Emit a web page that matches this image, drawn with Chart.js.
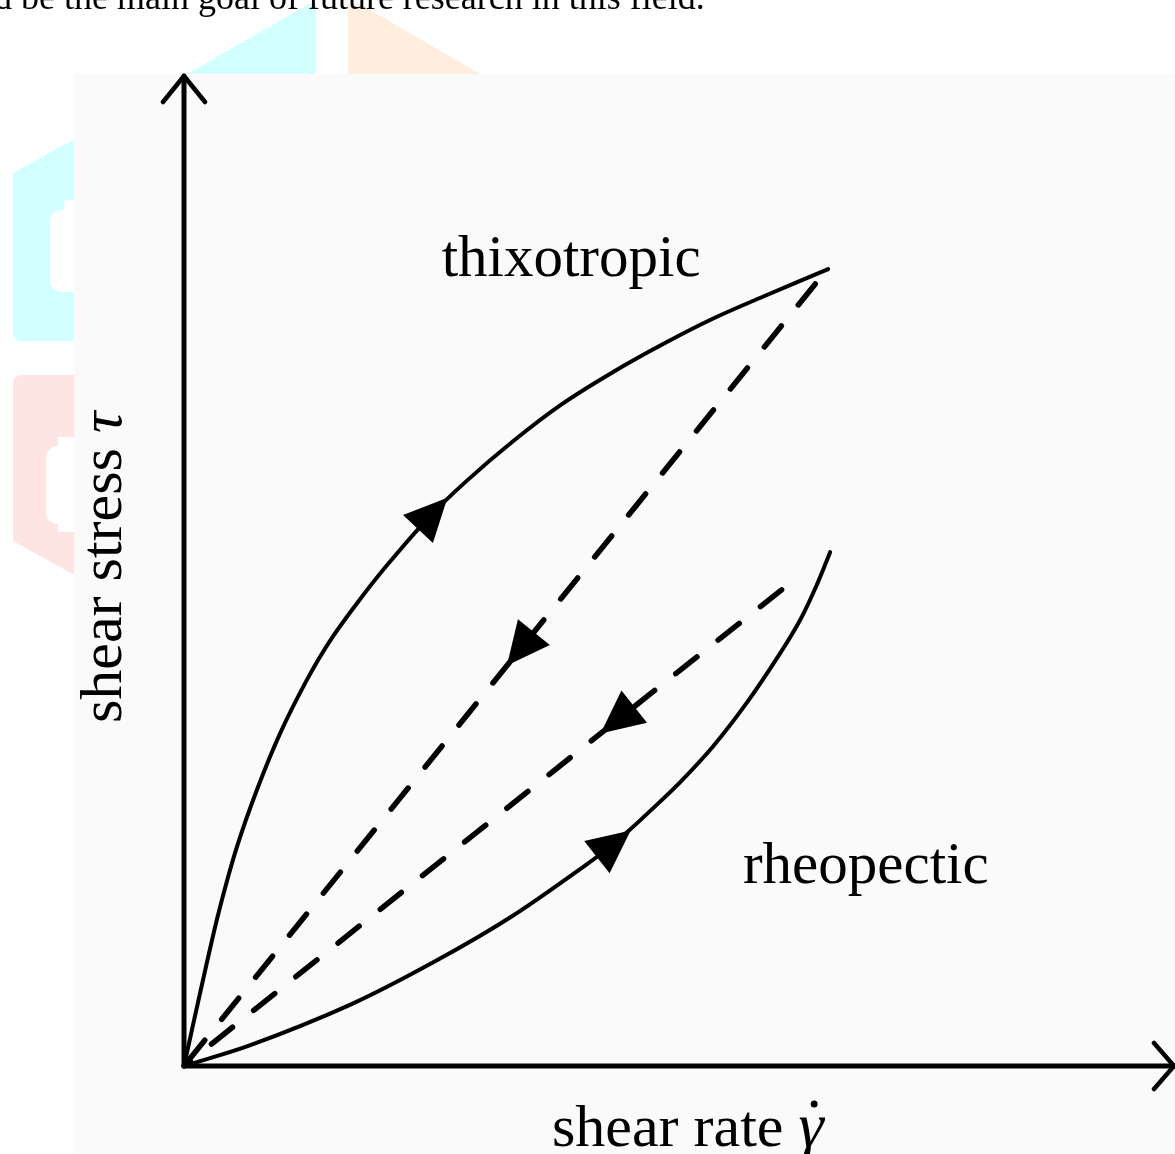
<!DOCTYPE html>
<html>
<head>
<meta charset="utf-8">
<script src="https://cdn.jsdelivr.net/npm/chart.js@4.4.1/dist/chart.umd.min.js"></script>
<style>
    html, body { margin: 0; padding: 0; background: #fff; overflow: hidden; }
    canvas { display: block; }
</style>
</head>
<body>
<canvas id="flowCurves" width="1175" height="1154"></canvas>
<script>
// shear rate (x) / shear stress (y), arbitrary units 0..10
const thixoUpX   = [0, 0.09, 0.23, 0.36, 0.53, 0.74, 0.97, 1.24, 1.47, 1.75, 2.05, 2.46, 2.83, 3.32, 3.82, 4.33, 4.83, 5.34, 5.84, 6.50];
const thixoUpY   = [0, 0.41, 1.04, 1.59, 2.20, 2.80, 3.36, 3.90, 4.29, 4.68, 5.06, 5.53, 5.89, 6.31, 6.69, 7.01, 7.29, 7.55, 7.77, 8.05];
const thixoDownX = [6.37, 3.44, 0];
const thixoDownY = [7.90, 4.27, 0];
const rheoUpX    = [0, 0.67, 1.68, 2.52, 3.29, 4.04, 4.28, 4.47, 4.74, 5.01, 5.34, 5.68, 6.01, 6.22, 6.39, 6.52];
const rheoUpY    = [0, 0.21, 0.62, 1.05, 1.50, 2.02, 2.20, 2.36, 2.61, 2.87, 3.23, 3.67, 4.16, 4.51, 4.87, 5.19];
const rheoDownX  = [6.03, 4.43, 0];
const rheoDownY  = [4.81, 3.54, 0];

// index of the point carrying the direction arrow, per dataset
const arrowAt = [11, 1, 6, 1];

const xTitle = 'shear rate ';
const xSymbol = 'γ';
const yTitle = 'shear stress ';
const ySymbol = 'τ';
const curveLabels = [
    { text: 'thixotropic', x: 2.60, y: 7.98 },
    { text: 'rheopectic',  x: 5.64, y: 1.85 }
];
const pageText = 'd be the main goal of future research in this field.';

const toPoints = (xs, ys) => xs.map((x, i) => ({ x: x, y: ys[i] }));

const SERIF = '"Liberation Serif", "DejaVu Serif", serif';

const pagePlugin = {
    id: 'page',
    beforeDraw(chart) {
        const ctx = chart.ctx;
        ctx.save();
        ctx.fillStyle = '#ffffff';
        ctx.fillRect(0, 0, chart.width, chart.height);

        // faded logo shapes behind the figure
        ctx.fillStyle = '#d2ffff';
        ctx.beginPath();
        ctx.moveTo(187, 74); ctx.lineTo(309, 4); ctx.lineTo(316, 4); ctx.lineTo(316, 74);
        ctx.closePath(); ctx.fill();
        ctx.beginPath();
        ctx.moveTo(13, 173); ctx.lineTo(80, 136); ctx.lineTo(80, 341); ctx.lineTo(22, 341);
        ctx.quadraticCurveTo(13, 341, 13, 332);
        ctx.closePath(); ctx.fill();

        ctx.fillStyle = '#ffeedd';
        ctx.beginPath();
        ctx.moveTo(348, 4); ctx.lineTo(360, 4); ctx.lineTo(480, 74); ctx.lineTo(348, 74);
        ctx.closePath(); ctx.fill();

        ctx.fillStyle = '#ffe4e4';
        ctx.beginPath();
        ctx.moveTo(22, 375); ctx.lineTo(80, 375); ctx.lineTo(80, 578); ctx.lineTo(13, 541);
        ctx.lineTo(13, 384); ctx.quadraticCurveTo(13, 375, 22, 375);
        ctx.closePath(); ctx.fill();

        ctx.fillStyle = '#ffffff';
        ctx.beginPath();
        ctx.roundRect(50, 210, 40, 82, 12); ctx.fill();
        ctx.fillRect(64, 200, 20, 14);
        ctx.beginPath();
        ctx.roundRect(46, 446, 40, 78, 12); ctx.fill();
        ctx.fillRect(58, 437, 20, 14);
        ctx.fillRect(58, 520, 20, 12);

        // figure panel
        ctx.fillStyle = '#fafafa';
        ctx.fillRect(74, 74, chart.width - 74, chart.height - 74);

        // running text of the page above the figure
        ctx.fillStyle = '#000';
        ctx.font = '36px ' + SERIF;
        ctx.textBaseline = 'alphabetic';
        ctx.fillText(pageText, -6, 9);
        ctx.restore();
    },
    afterDraw(chart) {
        const ctx = chart.ctx;
        const xs = chart.scales.x, ys = chart.scales.y;
        const ox = xs.getPixelForValue(0), oy = ys.getPixelForValue(0);
        const xe = xs.getPixelForValue(xs.max), ye = ys.getPixelForValue(ys.max);
        ctx.save();
        ctx.strokeStyle = '#000';
        ctx.lineCap = 'round';
        ctx.lineJoin = 'round';
        ctx.lineWidth = 5;
        ctx.beginPath();
        ctx.moveTo(ox, ye); ctx.lineTo(ox, oy); ctx.lineTo(xe, oy);
        ctx.stroke();
        ctx.lineWidth = 4.5;
        ctx.beginPath();
        ctx.moveTo(ox - 21, ye + 26); ctx.lineTo(ox, ye); ctx.lineTo(ox + 21, ye + 26);
        ctx.moveTo(xe - 21, oy - 23); ctx.lineTo(xe - 1, oy); ctx.lineTo(xe - 21, oy + 23);
        ctx.stroke();

        ctx.fillStyle = '#000';
        ctx.textBaseline = 'alphabetic';

        // axis titles
        ctx.font = '60px ' + SERIF;
        const xw = ctx.measureText(xTitle).width;
        ctx.fillText(xTitle, 552, 1146);
        ctx.font = 'italic 64px ' + SERIF;
        ctx.fillText(xSymbol, 552 + xw, 1146);
        const gw = ctx.measureText(xSymbol).width;
        ctx.beginPath();
        ctx.arc(552 + xw + gw * 0.62, 1104, 3.5, 0, Math.PI * 2);
        ctx.fill();

        ctx.save();
        ctx.translate(121, 723);
        ctx.rotate(-Math.PI / 2);
        ctx.font = '60px ' + SERIF;
        const yw = ctx.measureText(yTitle).width;
        ctx.fillText(yTitle, 0, 0);
        ctx.font = 'italic 60px ' + SERIF;
        ctx.fillText(ySymbol, yw, 0);
        ctx.restore();

        // curve names
        ctx.font = '59px ' + SERIF;
        curveLabels.forEach(l => {
            ctx.fillText(l.text, xs.getPixelForValue(l.x), ys.getPixelForValue(l.y));
        });
        ctx.restore();
    }
};

const arrowPlugin = {
    id: 'arrows',
    afterDatasetsDraw(chart) {
        const ctx = chart.ctx;
        ctx.save();
        ctx.fillStyle = '#000';
        arrowAt.forEach((k, i) => {
            const pts = chart.getDatasetMeta(i).data;
            const p = pts[k], a = pts[k - 1], b = pts[k + 1];
            let dx = b.x - a.x, dy = b.y - a.y;
            const len = Math.hypot(dx, dy);
            dx /= len; dy /= len;
            const h = 43, w = 41;
            ctx.beginPath();
            ctx.moveTo(p.x + dx * h * 2 / 3, p.y + dy * h * 2 / 3);
            ctx.lineTo(p.x - dx * h / 3 - dy * w / 2, p.y - dy * h / 3 + dx * w / 2);
            ctx.lineTo(p.x - dx * h / 3 + dy * w / 2, p.y - dy * h / 3 - dx * w / 2);
            ctx.closePath();
            ctx.fill();
        });
        ctx.restore();
    }
};

const solid = { borderColor: '#000', borderWidth: 4, tension: 0.35, pointRadius: 0,
                showLine: true, fill: false, clip: false, borderCapStyle: 'round', borderJoinStyle: 'round' };
const dashed = { borderColor: '#000', borderWidth: 5.5, tension: 0, pointRadius: 0, showLine: true, fill: false, clip: false,
                 borderDash: [27, 27], borderCapStyle: 'round' };

new Chart(document.getElementById('flowCurves'), {
    type: 'scatter',
    data: {
        datasets: [
            { label: 'thixotropic up',   data: toPoints(thixoUpX, thixoUpY),     ...solid },
            { label: 'thixotropic down', data: toPoints(thixoDownX, thixoDownY), ...dashed },
            { label: 'rheopectic up',    data: toPoints(rheoUpX, rheoUpY),       ...solid },
            { label: 'rheopectic down',  data: toPoints(rheoDownX, rheoDownY),   ...dashed }
        ]
    },
    options: {
        responsive: false,
        animation: false,
        layout: { padding: { left: 184, right: 0, top: 76, bottom: 88 } },
        scales: {
            x: { type: 'linear', min: 0, max: 10, display: false },
            y: { type: 'linear', min: 0, max: 10, display: false }
        },
        plugins: {
            legend: { display: false },
            tooltip: { enabled: false }
        }
    },
    plugins: [pagePlugin, arrowPlugin]
});
</script>
</body>
</html>
